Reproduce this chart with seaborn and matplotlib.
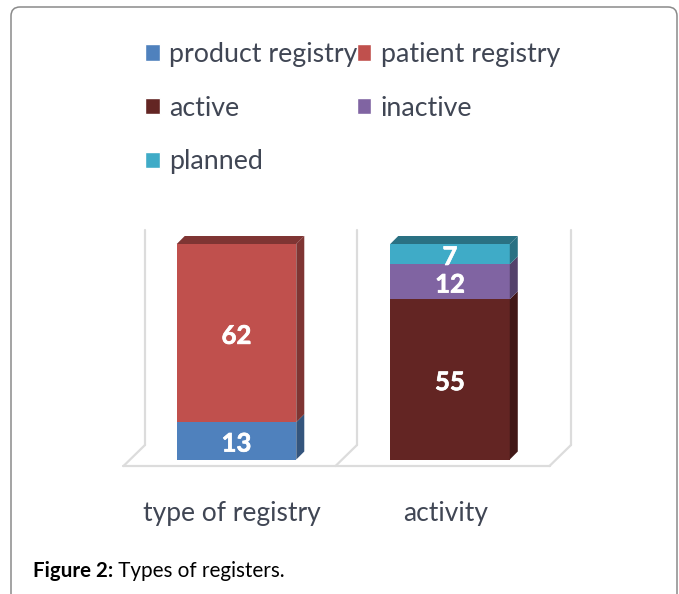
import matplotlib
matplotlib.use("Agg")
import matplotlib.pyplot as plt
from matplotlib.patches import Patch, FancyBboxPatch
from matplotlib.transforms import ScaledTranslation
from matplotlib.colors import to_rgb
import matplotlib.patheffects as pe
import seaborn as sns
import pandas as pd

categories = ["type of registry", "activity"]
series_names = ["product registry", "patient registry", "active", "inactive", "planned"]
product_registry = [13, 0]
patient_registry = [62, 0]
active = [0, 55]
inactive = [0, 12]
planned = [0, 7]
series_values = [product_registry, patient_registry, active, inactive, planned]
colors = ["#4F81BD", "#C0504D", "#632523", "#8064A2", "#3FABC7"]
caption_bold = "Figure 2:"
caption_text = " Types of registers."

W, H = 679, 594
sns.set_theme(style="white")
plt.rcParams["font.family"] = ["Lato", "DejaVu Sans"]
fig = plt.figure(figsize=(W / 100, H / 100), dpi=100, facecolor="white")

# page furniture in pixel coordinates
bg = fig.add_axes([0, 0, 1, 1])
bg.set_xlim(0, W); bg.set_ylim(H, 0); bg.axis("off")
bg.add_patch(FancyBboxPatch((11, 7), 666, 640, boxstyle="round,pad=0,rounding_size=9",
                            fc="white", ec="#8a8a8a", lw=1.1, clip_on=True))
grid_c = "#dcdcdc"
for x in (145, 357, 571):
    bg.plot([x, x], [230, 445], color=grid_c, lw=1.6)
    bg.plot([x, x - 21.5], [445, 466], color=grid_c, lw=1.6)
bg.plot([123, 550], [466, 466], color=grid_c, lw=1.6)

# plot area: bars centred at 236.5 / 450 px, baseline 459.5, top 244
L, R, T, B = 129.75, 556.75, 244, 459.5
ax = fig.add_axes([L / W, 1 - B / H, (R - L) / W, (B - T) / H])
ax.patch.set_alpha(0)
totals = [sum(v[i] for v in series_values) for i in range(len(categories))]
depth_x = 8 / ((R - L) / 2)
depth_y = 8 / (B - T)

bottoms = [0.0, 0.0]
for name, vals, col in zip(series_names, series_values, colors):
    shares = [v / t for v, t in zip(vals, totals)]
    df = pd.DataFrame({"category": categories, "share": shares})
    before = len(ax.containers)
    sns.barplot(data=df, x="category", y="share", bottom=bottoms, color=col, saturation=1,
                width=0.56, ax=ax, order=categories, errorbar=None, linewidth=0, edgecolor="none")
    cont = ax.containers[before]
    texts = ax.bar_label(cont, labels=[str(v) if v else "" for v in vals], label_type="center",
                         padding=-2, color="white", fontweight="bold", fontsize=18.5, zorder=10)
    for tx in texts:
        tx.set_path_effects([pe.withStroke(linewidth=0.5, foreground="white")])
    shade = tuple(c * 0.66 for c in to_rgb(col))
    for rect, v in zip(cont, vals):
        if not v:
            continue
        x1 = rect.get_x() + rect.get_width()
        x0 = rect.get_x()
        y0, y1 = rect.get_y(), rect.get_y() + rect.get_height()
        ax.fill([x1, x1, x1 + depth_x, x1 + depth_x],
                [y0, y1, y1 + depth_y, y0 + depth_y], color=shade, lw=0, clip_on=False, zorder=3)
        if abs(y1 - 1) < 1e-9:
            ax.fill([x0, x1, x1 + depth_x, x0 + depth_x],
                    [y1, y1, y1 + depth_y, y1 + depth_y], color=shade, lw=0, clip_on=False, zorder=3)
    bottoms = [b + s for b, s in zip(bottoms, shares)]

ax.set_xlim(-0.5, 1.5)
ax.set_ylim(0, 1)
ax.set_xlabel(""); ax.set_ylabel("")
ax.set_yticks([])
sns.despine(ax=ax, left=True, bottom=True)
ax.tick_params(axis="x", length=0, pad=30)
ax.set_xticks(range(len(categories)), categories, fontsize=19, color="#404654")
shift = ScaledTranslation(-4.5 / 100, 0, fig.dpi_scale_trans)
for lab in ax.get_xticklabels():
    lab.set_transform(lab.get_transform() + shift)

# legend (column-wise order gives the reference's row layout)
order = [0, 2, 4, 1, 3]
handles = [Patch(facecolor=colors[i], label=series_names[i]) for i in order]
leg = fig.legend(handles=handles, ncol=2, loc="upper left",
                 bbox_to_anchor=(145 / W, 1 - 42 / H), frameon=False, fontsize=19.3,
                 handlelength=0.55, handleheight=0.55, handletextpad=0.34,
                 labelspacing=1.07, columnspacing=-0.02, borderpad=0, borderaxespad=0,
                 labelcolor="#404654")

bg.set_zorder(0); ax.set_zorder(1)
t = fig.text(33 / W, 1 - 577 / H, caption_bold, fontsize=14.8, fontweight="bold",
             color="black", va="baseline")
bg.annotate(caption_text, xy=(1, 1 - 577 / H), xycoords=(t, "figure fraction"), fontsize=14.9,
            color="black", va="baseline", annotation_clip=False)

fig.savefig("out.png", dpi=100, facecolor="white")
